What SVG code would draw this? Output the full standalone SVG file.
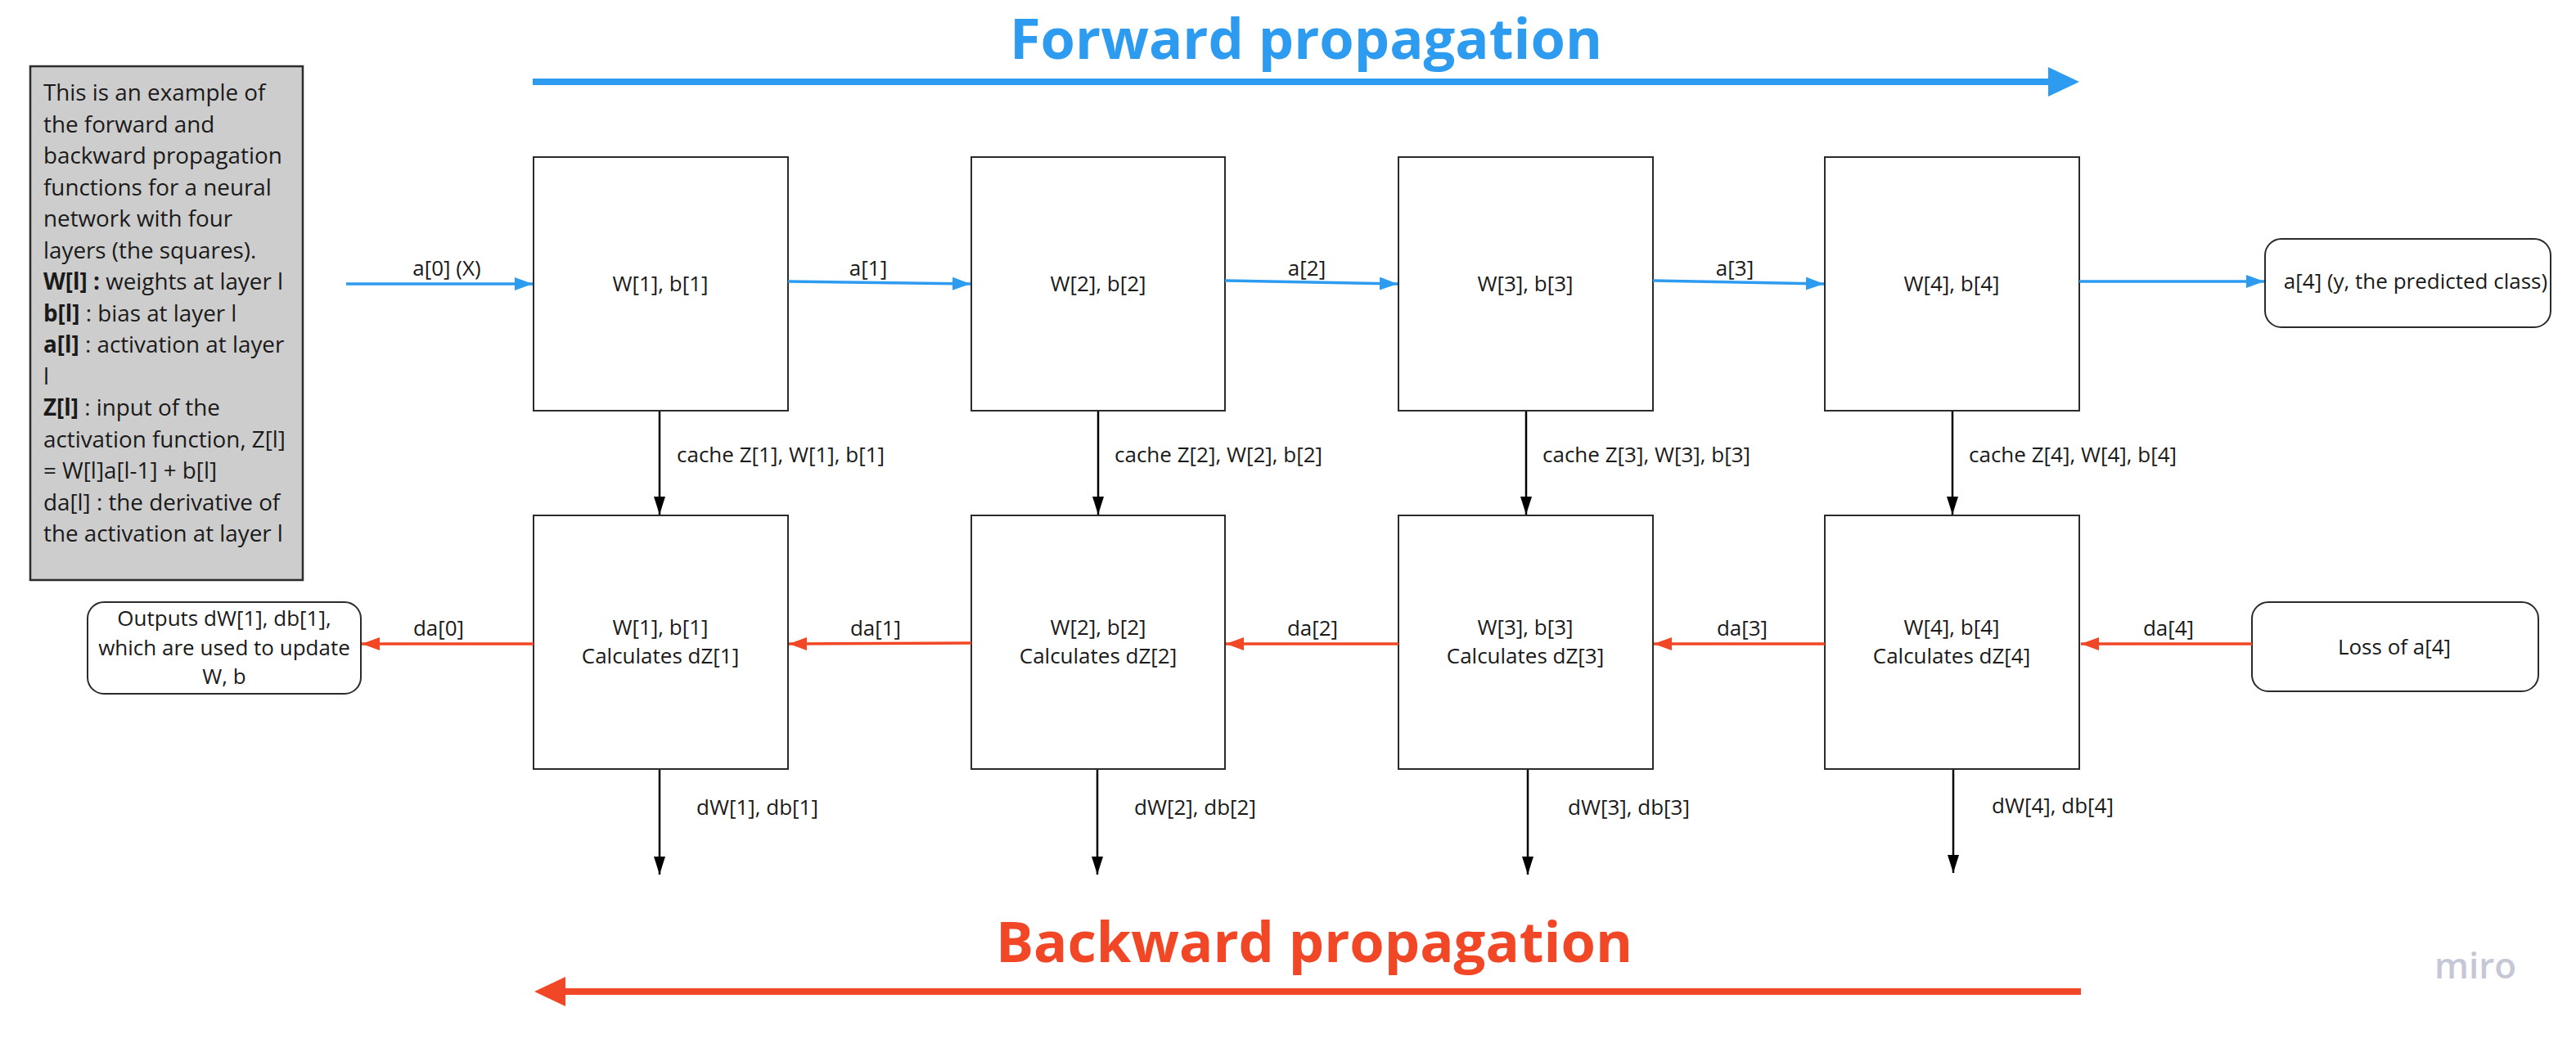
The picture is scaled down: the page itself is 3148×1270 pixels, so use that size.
<svg xmlns="http://www.w3.org/2000/svg" width="3148" height="1270" viewBox="0 0 3148 1270">
<defs>
<style>
text{font-family:"Open Sans","Noto Sans","Liberation Sans",sans-serif;fill:#1a1a1a}
.t{font-size:26px}
.c{text-anchor:middle}
.side{font-size:27.8px}
.b{font-weight:700}
.box{fill:#ffffff;stroke:#2b2b2b;stroke-width:2}
.rbox{fill:#ffffff;stroke:#2b2b2b;stroke-width:2}
.blue{stroke:#2d9bf0;stroke-width:3.5;fill:none}
.red{stroke:#f24726;stroke-width:3.5;fill:none}
.blk{stroke:#000;stroke-width:2.5;fill:none}
.title{font-size:68.6px;font-weight:700}
</style>
<marker id="hb" markerUnits="userSpaceOnUse" markerWidth="24" markerHeight="18" refX="22" refY="8" orient="auto"><path d="M0,0 L22,8 L0,16 Z" fill="#2d9bf0"/></marker>
<marker id="hr" markerUnits="userSpaceOnUse" markerWidth="24" markerHeight="18" refX="22" refY="8" orient="auto"><path d="M0,0 L22,8 L0,16 Z" fill="#f24726"/></marker>
<marker id="hk" markerUnits="userSpaceOnUse" markerWidth="24" markerHeight="16" refX="22" refY="7" orient="auto"><path d="M0,0 L22,7 L0,14 Z" fill="#000"/></marker>
</defs>
<rect width="3148" height="1270" fill="#ffffff"/>

<g id="title-forward">
<text class="title" x="1596" y="72" text-anchor="middle" style="fill:#2d9bf0">Forward propagation</text>
<line x1="651" y1="100" x2="2506" y2="100" stroke="#2d9bf0" stroke-width="8"/>
<polygon points="2503,82 2541,100 2503,118" fill="#2d9bf0"/>
</g>
<g id="title-backward">
<text class="title" x="1606" y="1176" text-anchor="middle" style="fill:#f24726">Backward propagation</text>
<line x1="2543" y1="1212" x2="688" y2="1212" stroke="#f24726" stroke-width="8"/>
<polygon points="691,1194 653,1212 691,1230" fill="#f24726"/>
</g>

<g id="legend">
<rect x="37" y="81" width="333" height="628" fill="#cdcdcd" stroke="#2b2b2b" stroke-width="2.5"/>
<text class="side" x="53">
<tspan x="53" y="123">This is an example of</tspan>
<tspan x="53" y="161.5">the forward and</tspan>
<tspan x="53" y="200">backward propagation</tspan>
<tspan x="53" y="238.5">functions for a neural</tspan>
<tspan x="53" y="277">network with four</tspan>
<tspan x="53" y="315.5">layers (the squares).</tspan>
<tspan x="53" y="354"><tspan class="b">W[l] :</tspan> weights at layer l</tspan>
<tspan x="53" y="392.5"><tspan class="b">b[l]</tspan> : bias at layer l</tspan>
<tspan x="53" y="431"><tspan class="b">a[l]</tspan> : activation at layer</tspan>
<tspan x="53" y="469.5">l</tspan>
<tspan x="53" y="508"><tspan class="b">Z[l]</tspan> : input of the</tspan>
<tspan x="53" y="546.5">activation function, Z[l]</tspan>
<tspan x="53" y="585">= W[l]a[l-1] + b[l]</tspan>
<tspan x="53" y="623.5">da[l] : the derivative of</tspan>
<tspan x="53" y="662">the activation at layer l</tspan>
</text>
</g>

<g id="fwd1"><rect class="box" x="652" y="192" width="311" height="310"/><text class="t c" x="807" y="356">W[1], b[1]</text></g>
<g id="fwd2"><rect class="box" x="1187" y="192" width="310" height="310"/><text class="t c" x="1342" y="356">W[2], b[2]</text></g>
<g id="fwd3"><rect class="box" x="1709" y="192" width="311" height="310"/><text class="t c" x="1864" y="356">W[3], b[3]</text></g>
<g id="fwd4"><rect class="box" x="2230" y="192" width="311" height="310"/><text class="t c" x="2385" y="356">W[4], b[4]</text></g>

<g id="output"><rect class="rbox" x="2768" y="292" width="349" height="108" rx="20"/><text class="t c" x="2952" y="353">a[4] (y, the predicted class)</text></g>

<g id="bwd1"><rect class="box" x="652" y="630" width="311" height="310"/><text class="t c" x="807" y="776">W[1], b[1]</text><text class="t c" x="807" y="811">Calculates dZ[1]</text></g>
<g id="bwd2"><rect class="box" x="1187" y="630" width="310" height="310"/><text class="t c" x="1342" y="776">W[2], b[2]</text><text class="t c" x="1342" y="811">Calculates dZ[2]</text></g>
<g id="bwd3"><rect class="box" x="1709" y="630" width="311" height="310"/><text class="t c" x="1864" y="776">W[3], b[3]</text><text class="t c" x="1864" y="811">Calculates dZ[3]</text></g>
<g id="bwd4"><rect class="box" x="2230" y="630" width="311" height="310"/><text class="t c" x="2385" y="776">W[4], b[4]</text><text class="t c" x="2385" y="811">Calculates dZ[4]</text></g>

<g id="outputs-update"><rect class="rbox" x="107" y="736" width="334" height="112" rx="20"/>
<text class="t c" x="274" y="765">Outputs dW[1], db[1],</text>
<text class="t c" x="274" y="801">which are used to update</text>
<text class="t c" x="274" y="836">W, b</text></g>

<g id="loss"><rect class="rbox" x="2752" y="736" width="350" height="109" rx="20"/><text class="t c" x="2926" y="800">Loss of a[4]</text></g>

<g id="connectors">
<line class="blue" x1="423" y1="347" x2="651" y2="347" marker-end="url(#hb)"/>
<line class="blue" x1="963" y1="344" x2="1186" y2="347" marker-end="url(#hb)"/>
<line class="blue" x1="1497" y1="343" x2="1708" y2="347" marker-end="url(#hb)"/>
<line class="blue" x1="2020" y1="343" x2="2229" y2="347" marker-end="url(#hb)"/>
<line class="blue" x1="2541" y1="344" x2="2767" y2="344" marker-end="url(#hb)"/>

<line class="blk" x1="806" y1="503" x2="806" y2="629" marker-end="url(#hk)"/>
<line class="blk" x1="1342" y1="503" x2="1342" y2="629" marker-end="url(#hk)"/>
<line class="blk" x1="1865" y1="503" x2="1865" y2="629" marker-end="url(#hk)"/>
<line class="blk" x1="2386" y1="503" x2="2386" y2="629" marker-end="url(#hk)"/>

<line class="blk" x1="806" y1="941" x2="806" y2="1069" marker-end="url(#hk)"/>
<line class="blk" x1="1341" y1="941" x2="1341" y2="1069" marker-end="url(#hk)"/>
<line class="blk" x1="1867" y1="941" x2="1867" y2="1069" marker-end="url(#hk)"/>
<line class="blk" x1="2387" y1="941" x2="2387" y2="1067" marker-end="url(#hk)"/>

<line class="red" x1="2752" y1="787" x2="2543" y2="787" marker-end="url(#hr)"/>
<line class="red" x1="2230" y1="787" x2="2021" y2="787" marker-end="url(#hr)"/>
<line class="red" x1="1709" y1="787" x2="1498" y2="787" marker-end="url(#hr)"/>
<line class="red" x1="1187" y1="786" x2="964" y2="787" marker-end="url(#hr)"/>
<line class="red" x1="652" y1="787" x2="442" y2="787" marker-end="url(#hr)"/>

<text class="t c" x="546" y="337">a[0] (X)</text>
<text class="t c" x="1061" y="337">a[1]</text>
<text class="t c" x="1597" y="337">a[2]</text>
<text class="t c" x="2120" y="337">a[3]</text>

<text class="t" x="827" y="565">cache Z[1], W[1], b[1]</text>
<text class="t" x="1362" y="565">cache Z[2], W[2], b[2]</text>
<text class="t" x="1885" y="565">cache Z[3], W[3], b[3]</text>
<text class="t" x="2406" y="565">cache Z[4], W[4], b[4]</text>

<text class="t c" x="536" y="777">da[0]</text>
<text class="t c" x="1070" y="777">da[1]</text>
<text class="t c" x="1604" y="777">da[2]</text>
<text class="t c" x="2129" y="777">da[3]</text>
<text class="t c" x="2650" y="777">da[4]</text>

<text class="t" x="851" y="996">dW[1], db[1]</text>
<text class="t" x="1386" y="996">dW[2], db[2]</text>
<text class="t" x="1916" y="996">dW[3], db[3]</text>
<text class="t" x="2434" y="994">dW[4], db[4]</text>
</g>

<text x="3025" y="1196" text-anchor="middle" style="font-size:44px;font-weight:600;fill:#c6c7d6">miro</text>
</svg>
